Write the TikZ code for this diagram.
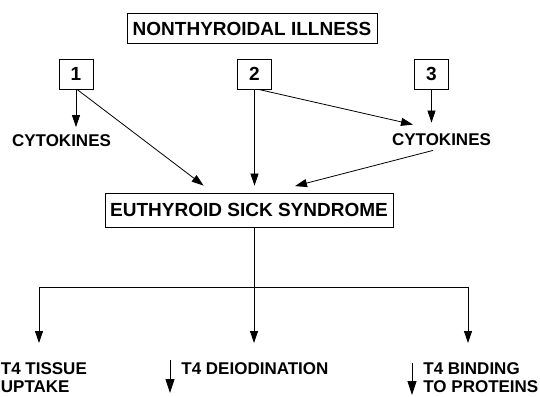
\documentclass[tikz,border=0pt]{standalone}
\usepackage{fontspec}
\setmainfont{Liberation Sans}
\usetikzlibrary{arrows.meta}
\begin{document}
\begin{tikzpicture}[x=1pt,y=1pt,
  line width=0.8pt,
  big/.style={font=\fontsize{19}{21}\selectfont\bfseries},
  small/.style={font=\fontsize{17}{18}\selectfont\bfseries},
  boxed/.style={draw, inner sep=0pt},
  arr/.style={-{Triangle[length=12pt,width=8pt]}},
  darr/.style={-{Triangle[length=14pt,width=9pt]}},
  lbl/.style={small, inner sep=0pt, align=left}]
\useasboundingbox (0,0) rectangle (540,396);
% boxes
\node[boxed, big, minimum width=250pt, minimum height=30pt] (ni) at (252,367.5) {NONTHYROIDAL ILLNESS};
\node[boxed, big, minimum width=34pt, minimum height=30pt] (n1) at (76,322) {1};
\node[boxed, big, minimum width=34pt, minimum height=30pt] (n2) at (254.5,322) {2};
\node[boxed, big, minimum width=34pt, minimum height=30pt] (n3) at (431.5,322) {3};
\node[small, inner sep=0pt] (cyt1) at (61.5,255.5) {CYTOKINES};
\node[small, inner sep=0pt] (cyt2) at (441.5,256) {CYTOKINES};
\node[boxed, big, minimum width=288pt, minimum height=34pt] (ess) at (249,186) {EUTHYROID SICK SYNDROME};
% bottom labels
\node[lbl, anchor=north west] (tis) at (0.5,34) {T4 TISSUE\\UPTAKE};
\node[lbl, anchor=north west] (dei) at (181,34) {T4 DEIODINATION};
\node[lbl, anchor=north west] (bind) at (423,34) {T4 BINDING\\TO PROTEINS};
% upper connectors
\draw[arr] (n1.south) -- ([yshift=7pt]n1.south |- cyt1.north);
\draw[arr] ([xshift=1pt]n1.south) -- ([xshift=99pt,yshift=7pt]ess.north west);
\draw[arr] (n2.south) -- ([yshift=7pt]n2.south |- ess.north);
\draw[arr] ([xshift=4pt]n2.south) -- ([xshift=-28.5pt,yshift=9pt]cyt2.north);
\draw[arr] (n3.south) -- ([yshift=11pt]n3.south |- cyt2.north);
\draw[arr] ([xshift=-8.5pt,yshift=-4pt]cyt2.south) -- ([xshift=46pt,yshift=6.5pt]ess.north);
% lower tree
\coordinate (jc) at (254,109);
\coordinate (jl) at (39,109);
\coordinate (jr) at (468,109);
\draw ([xshift=5pt]ess.south) -- (jc);
\draw (jl) -- (jr);
\draw[arr] (jl) -- ([yshift=19pt]jl |- tis.north);
\draw[arr] (jc) -- ([yshift=19pt]jc |- dei.north);
\draw[arr] (jr) -- ([yshift=19pt]jr |- bind.north);
% decrease arrows
\draw[darr] ([xshift=-11pt,yshift=2pt]dei.north west) -- ([xshift=-11pt,yshift=-31pt]dei.north west);
\draw[darr] ([xshift=-11pt,yshift=-1pt]bind.north west) -- ([xshift=-11pt,yshift=-33pt]bind.north west);
\end{tikzpicture}
\end{document}
